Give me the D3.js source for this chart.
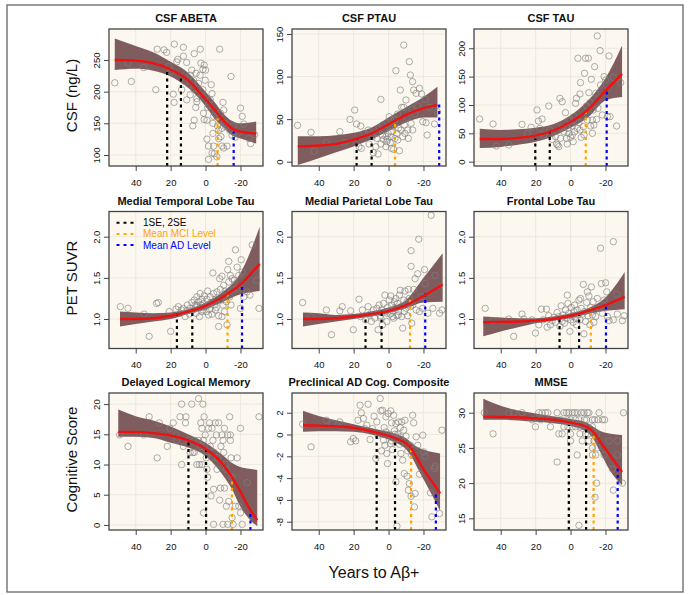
<!DOCTYPE html>
<html>
<head>
<meta charset="utf-8">
<script src="https://cdn.jsdelivr.net/npm/d3@7"></script>
<style>
  body { margin: 0; background: #fff; }
  text { font-family: "Liberation Sans", Arial, Helvetica, sans-serif; }
</style>
</head>
<body>
<div id="chart"></div>
<script>
// ---- data ----
const panelTitles = ["CSF ABETA", "CSF PTAU", "CSF TAU",
  "Medial Temporal Lobe Tau", "Medial Parietal Lobe Tau", "Frontal Lobe Tau",
  "Delayed Logical Memory", "Preclinical AD Cog. Composite", "MMSE"];
const rowTitles = ["CSF (ng/L)", "PET SUVR", "Cognitive Score"];
const xTitle = "Years to A\u03b2+";
const xTicks = [40, 20, 0, -20];
const yTicks = [
  [100, 150, 200, 250], [0, 50, 100, 150], [0, 50, 100, 150, 200],
  [1.0, 1.5, 2.0], [1.0, 1.5, 2.0], [1.0, 1.5, 2.0],
  [0, 5, 10, 15, 20], [-8, -6, -4, -2, 0, 2], [15, 20, 25, 30]
];
const xDomain = [55.3, -32.9];
const yDomains = [
  [82.6, 298.9], [-5.05, 155.9], [-7.6, 234],
  [0.642, 2.306], [0.642, 2.306], [0.642, 2.306],
  [-0.84, 21.84], [-8.76, 3.81], [13.34, 32.8]
];
const legendLabels = ["1SE, 2SE", "Mean MCI Level", "Mean AD Level"];
const legendColors = ["#000000", "#FFA500", "#0000FF"];
const levelColors = ["#000000", "#000000", "#FFA500", "#0000FF"];

// fitted curve knots (x = years to Aβ+), with lower / upper band
const fitX_abeta = [52, 40, 30, 20, 10, 0, -5, -10, -15, -20, -29];
const fit_abeta  = [250, 249, 245, 235, 218, 188, 172, 155, 142, 137, 134];
const hi_abeta   = [284, 272, 262, 247, 230, 200, 184, 166, 154, 150, 153];
const lo_abeta   = [234, 236, 233, 224, 206, 177, 158, 144, 131, 126, 118];

const fitX_ptau = [52, 40, 30, 20, 10, 0, -10, -20, -28];
const fit_ptau  = [18, 19, 21, 26, 33, 44, 55, 63, 66.5];
const hi_ptau   = [30, 30, 31, 34, 40, 52, 64, 76, 88];
const lo_ptau   = [-4, 4, 11, 18, 26, 36, 46, 52, 52];

const fitX_tau = [52, 40, 30, 20, 10, 0, -10, -20, -29.5];
const fit_tau  = [40, 40, 42, 46, 55, 70, 92, 125, 155];
const hi_tau   = [58, 56, 57, 60, 66, 82, 108, 147, 205];
const lo_tau   = [24, 26, 30, 35, 45, 60, 78, 108, 114];

const fitX_mtl = [49, 40, 30, 20, 10, 0, -10, -20, -31];
const fit_mtl  = [1.0, 1.0, 1.01, 1.04, 1.09, 1.16, 1.27, 1.42, 1.67];
const hi_mtl   = [1.09, 1.08, 1.07, 1.08, 1.12, 1.20, 1.33, 1.56, 2.12];
const lo_mtl   = [0.91, 0.94, 0.97, 1.0, 1.06, 1.12, 1.21, 1.30, 1.34];

const fitX_mpl = [49, 40, 30, 20, 10, 0, -10, -20, -31];
const fit_mpl  = [1.0, 1.0, 1.01, 1.03, 1.06, 1.10, 1.17, 1.28, 1.42];
const hi_mpl   = [1.08, 1.07, 1.05, 1.06, 1.09, 1.14, 1.23, 1.50, 1.80];
const lo_mpl   = [0.91, 0.94, 0.97, 1.0, 1.03, 1.07, 1.13, 1.20, 1.21];

const fitX_front = [50, 40, 30, 20, 10, 0, -10, -20, -31];
const fit_front  = [0.96, 0.965, 0.97, 0.98, 1.0, 1.04, 1.10, 1.17, 1.27];
const hi_front   = [1.03, 1.02, 1.01, 1.01, 1.03, 1.07, 1.13, 1.26, 1.57];
const lo_front   = [0.79, 0.85, 0.90, 0.95, 0.98, 1.01, 1.06, 1.10, 1.12];

const fitX_dlm = [50, 40, 30, 20, 10, 0, -10, -15, -20, -25, -29.6];
const fit_dlm  = [15.4, 15.4, 15.2, 14.8, 14.0, 12.6, 10.0, 8.0, 5.5, 2.8, 0.8];
const hi_dlm   = [19.1, 18.0, 17.3, 16.3, 15.0, 13.6, 11.5, 10.3, 9.6, 9.3, 9.1];
const lo_dlm   = [14.6, 14.6, 14.4, 13.6, 12.8, 11.4, 8.2, 6.0, 3.0, 1.0, -0.2];

const fitX_pacc = [49, 40, 30, 20, 10, 5, 0, -5, -10, -13, -17, -21, -25, -29.5];
const fit_pacc  = [0.85, 0.82, 0.75, 0.62, 0.3, 0.1, -0.12, -0.42, -0.8, -1.3, -2.35, -3.45, -4.35, -5.4];
const hi_pacc   = [2.17, 1.7, 1.3, 0.95, 0.6, 0.42, 0.25, 0.0, -0.35, -0.75, -1.2, -1.45, -1.6, -1.75];
const lo_pacc   = [0.25, 0.3, 0.3, 0.25, 0.0, -0.2, -0.45, -0.8, -1.35, -2.0, -3.2, -4.4, -5.6, -7.0];

const fitX_mmse = [50, 40, 30, 20, 10, 0, -9, -13, -17, -23, -29.5];
const fit_mmse  = [29.45, 29.4, 29.35, 29.2, 29.0, 28.6, 28.0, 27.3, 25.9, 23.8, 21.6];
const hi_mmse   = [32.0, 31.0, 30.3, 29.9, 29.5, 29.1, 28.6, 28.0, 27.4, 27.0, 26.85];
const lo_mmse   = [29.0, 29.0, 28.9, 28.7, 28.5, 28.1, 27.3, 26.3, 24.4, 21.6, 19.7];

// [x, top value] of the 1SE, 2SE, MCI and AD drop lines
const levels_abeta = [[22, 237], [14.1, 225], [-6.9, 158], [-16.1, 137]];
const levels_ptau  = [[18.3, 27.5], [9.7, 31.4], [-3.7, 45], [-29, 68.7]];
const levels_tau   = [[20.2, 41], [11.9, 53], [-8.7, 91], [-20.7, 129]];
const levels_mtl   = [[16.4, 1.07], [7.6, 1.11], [-12.6, 1.35], [-20.9, 1.40]];
const levels_mpl   = [[13.2, 1.05], [4, 1.09], [-12.3, 1.23], [-21, 1.31]];
const levels_front = [[6.3, 1.01], [-4.9, 1.05], [-11.6, 1.13], [-20.3, 1.15]];
const levels_dlm   = [[9.8, 14.1], [-0.3, 12.9], [-15.1, 8.2], [-25.7, 2.3]];
const levels_pacc  = [[6.8, 0.05], [-3.7, -0.37], [-12.9, -1.28], [-27.1, -5.26]];
const levels_mmse  = [[1, 28.26], [-8.9, 27.8], [-13.2, 27.3], [-27, 22.1]];

// observed subjects [years to Aβ+, value]
const pts_abeta = [[52,214],[44.4,245],[42.5,216],[35.4,238],[28.5,203],[27.7,267],[23.8,266],[22.3,262],[17.9,275],[21,240],
  [19.8,232],[18.5,196],[18,183],[16.5,247],[15.9,251],[12.7,270],[12.7,256],[11.7,216],[10.8,246],[8.8,226],
  [7.9,234],[8.8,195],[6.9,218],[6.5,260],[5.4,229],[4,213],[3,267],[5,189],[6.5,155],[7.3,146],
  [5,184],[2.7,245],[1.5,235],[0.8,242],[0,234],[1.5,203],[2.1,192],[1.2,166],[0.8,156],[-0.8,155],
  [-1.2,175],[-1.7,179],[-2.7,187],[-3.3,211],[-3.7,197],[-4.6,161],[-4.2,150],[-5.6,166],[-6.5,161],[-6.9,146],
  [-7.5,139],[-8.1,267],[-8.5,166],[-9.4,142],[-10,183],[-10.4,171],[-10.8,150],[-11.3,145],[-8.8,129],[-7.5,126],
  [-4.2,134],[-0.8,125],[-1.7,114],[-4.6,114],[-3.7,103],[-5,102],[-1.7,93],[-6.5,97],[-9.4,114],[-10.4,111],
  [-12.3,114],[-13.8,139],[-14.6,224],[-15.2,131],[-15.8,146],[-17.1,128],[-18.1,134],[-20,174],[-21,161],[-21.9,149],
  [-24.8,126],[-25.8,118],[-28.1,132],[0.2,218],[3.1,226],[6.9,205],[13.7,203],[10.8,187],[5.6,175]];

const pts_ptau = [[52.1,42.7],[44.4,34.5],[42.5,12.5],[35.6,22.3],[27.9,35.3],[25.2,22.3],[22.1,49.7],[19.4,60.7],[18.3,44.3],[16.9,17.6],
  [15.9,41.9],[15.6,15.7],[14,33.3],[11.7,37.2],[11.2,20.8],[9.2,29.4],[8.7,10.6],[7.3,17.6],[6.7,27.4],[6,9],
  [5.4,40.3],[4.4,73.2],[4.4,20.8],[3.5,31.3],[2.9,26.2],[2.1,37.2],[1.5,17.6],[1,23.5],[0.2,33.3],[-0.4,52.9],
  [-1,22.3],[-1.3,29.4],[-1.7,35.3],[-2.3,41.1],[-2.9,14.5],[-3.3,49],[-3.7,27.4],[-4.2,106.9],[-4.8,33.3],[-5.2,56],
  [-5.6,39.2],[-6.2,12.9],[-6.7,84.2],[-7.1,37.2],[-7.5,63.8],[-8.1,29.4],[-8.7,137],[-9,43.1],[-9.4,33.3],[-10,72.5],
  [-10.6,52.1],[-11,37.2],[-11.3,27.4],[-11.9,117.5],[-12.5,101.8],[-12.9,45],[-13.3,61.5],[-13.8,94],[-13.8,37.2],[-14.4,84.2],
  [-15.2,56],[-15.8,80.3],[-16.7,65.4],[-17.7,86.2],[-19,79.5],[-19.6,47],[-21,73.2],[-21.5,45.8],[-22.1,31.3],[-23.5,63.8],
  [-26.3,44.3],[-27.9,58.8],[0.6,26.2],[3.5,43.1],[6.7,33.3],[-1.7,15.7],[-3.7,43.1],[-8.7,63.8],[-5.2,25.5],[1.5,29.4],[-1.3,49]];

const pts_tau = [[52.1,75.3],[44.4,66.5],[42.5,27.6],[35.4,29.4],[27.8,65.9],[24.9,50],[22.6,60.6],[19.2,91.2],[18.4,71.8],[17.6,58.8],
  [16.3,75.3],[15.3,47],[12.5,98.2],[11.9,55.9],[10.5,39.4],[8.6,44.1],[8,31.2],[7.3,29.4],[6.7,26.5],[6.1,111.8],
  [5.7,41.2],[5.2,60],[4.8,105.9],[3.8,52.9],[2.9,86.5],[2.3,41.2],[1.9,31.2],[1.5,58.8],[1,50],[0.4,73.5],
  [0,42.9],[-1,62.9],[-1.5,35.3],[-1.9,79.4],[-2.3,52.9],[-2.9,102.9],[-3.4,111.8],[-3.8,58.8],[-4.2,182.4],[-4.8,68.8],
  [-5.4,119.4],[-5.7,139.4],[-6.1,42.9],[-6.7,79.4],[-7.3,61.8],[-8,155.9],[-8.6,182.4],[-9.2,98.2],[-9.6,73.5],[-10.2,182.4],
  [-10.5,121.8],[-11.1,104.1],[-11.5,62.9],[-11.9,145.3],[-12.5,50],[-13,91.2],[-13.4,64.7],[-13.8,167.6],[-14.4,120.6],[-14.9,74.7],
  [-15.3,221.8],[-15.7,94.1],[-16.9,195.9],[-17.2,135.3],[-18.2,82.4],[-19.2,150],[-20.1,144.1],[-21.1,79.4],[-22,186.5],[-22.6,79.4],
  [-24.5,148.8],[-26.4,62.9],[-28.7,139.4],[-2.9,70.6],[-5.4,55.9],[-7.7,47.1],[-1,47.1],[-12.5,73.5]];

const pts_mtl = [[48.8,1.15],[44.4,1.13],[35.2,1.06],[32.3,0.79],[28.1,1.19],[27.1,1.2],[20.8,1.09],[20,0.85],[16.9,1.12],[15.6,1.15],
  [14.6,1.07],[13.7,1.11],[12.7,1.13],[11.7,1.03],[10.8,1.1],[10.4,1.17],[9.2,1.06],[8.8,1.13],[7.9,1.2],[7.3,1.11],
  [6.5,1.23],[6,1.17],[5.4,1.07],[5,1.27],[4.6,1.15],[4,1.21],[3.5,1.03],[3.1,1.31],[2.7,1.17],[2.1,1.24],
  [1.5,1.11],[1.2,1.19],[0.8,1.28],[0.2,1.15],[-0.4,1.09],[-0.8,1.24],[-1.2,1.34],[-1.7,1.17],[-2.3,1.12],[-2.7,1.27],
  [-3.3,1.2],[-3.7,1.06],[-4.2,1.56],[-4.6,1.31],[-5,1.17],[-5.6,1.24],[-6.2,1.14],[-6.5,1.33],[-7.5,1.04],[-7.5,0.91],
  [-8.1,1.49],[-8.5,1.36],[-8.8,1.23],[-9.4,1.52],[-10,1.17],[-10.4,1.41],[-10.8,1.09],[-11.3,1.34],[-11.9,1.21],[-12.3,0.93],
  [-12.7,1.6],[-13.3,1.7],[-13.3,1.45],[-13.8,1.27],[-14.2,1.53],[-14.6,1.17],[-15.2,1.49],[-15.8,1.36],[-16.5,1.47],[-17.1,1.84],
  [-17.7,1.37],[-18.1,1.63],[-19,1.53],[-20,1.13],[-20.4,1.72],[-21,1.57],[-21.9,1.27],[-23.8,1.33],[-25.4,1.29],[-26.7,1.9],
  [-29.2,1.47],[-30.6,1.13],[2.1,1.09],[-1.7,1.05],[-5.6,1.11],[-9.4,1.03],[5,1.17]];

const pts_mpl = [[49.2,1.2],[44.4,1.03],[35.6,1.11],[32.7,0.81],[27.9,1.1],[26.5,1.15],[21.7,1.1],[20.2,0.87],[16.9,1.24],[16,1.03],
  [15,1.11],[13.1,0.99],[11.7,1.15],[10.6,1.06],[9.8,0.97],[8.7,1.11],[7.9,1.01],[6.7,1.13],[6,0.87],[5.4,1.17],
  [4.8,1.04],[4,1.11],[3.5,0.93],[2.9,1.19],[2.1,1.29],[1.5,1.09],[1,0.97],[0.6,1.14],[-0.4,1.23],[-1,1.06],
  [-1.3,1.28],[-1.7,1.17],[-2.3,1.1],[-2.9,1.01],[-3.3,1.21],[-3.7,1.13],[-4.2,1.25],[-4.8,1.04],[-5.2,1.19],[-5.8,1.09],
  [-6.2,1.29],[-6.7,1.35],[-7.1,1.15],[-7.5,1.03],[-8.1,0.89],[-8.7,1.23],[-9,1.09],[-9.4,1.34],[-10,1.13],[-10.6,1.21],
  [-11,1.04],[-11.3,1.36],[-11.9,1.25],[-12.5,1.15],[-12.9,1.64],[-12.9,1.83],[-13.3,0.95],[-13.8,1.17],[-14.4,1.36],[-15.2,1.49],
  [-15.8,1.11],[-16.7,1.55],[-17.3,1.97],[-17.7,1.09],[-18.7,1.27],[-19.6,1.13],[-20.6,1.6],[-21,1.43],[-22.5,1.07],[-24.4,2.26],
  [-25.4,1.13],[-26.7,1.53],[-29.2,1.07],[-30.6,1.11],[1,1.07],[-2.3,1.03],[-5.6,1.05],[4.4,1.01]];

const pts_front = [[48.9,1.13],[44.4,0.98],[35.4,1.0],[32.6,0.79],[27.8,1.06],[26.8,1.0],[22,0.99],[20.1,0.83],[18.2,0.93],[16.7,1.12],
  [15.7,0.99],[13.8,1.12],[13.4,0.9],[12.5,1.04],[11.5,0.93],[10.5,0.98],[9.6,1.02],[8.6,0.96],[7.7,1.08],[6.7,1.03],
  [6.1,0.91],[5.4,1.16],[4.8,0.97],[4.2,1.05],[3.4,0.95],[2.9,1.11],[2.3,1.01],[1.9,1.29],[1.5,1.19],[1,1.07],
  [0.4,0.85],[0,0.99],[-0.4,1.14],[-1,1.04],[-1.5,0.96],[-1.9,1.09],[-2.3,1.17],[-2.9,1.01],[-3.4,0.93],[-3.8,1.11],
  [-4.2,1.05],[-4.8,1.23],[-5.4,0.99],[-5.7,1.25],[-6.1,1.13],[-6.7,1.06],[-7.3,1.42],[-7.7,0.82],[-8,1.09],[-8.6,0.97],
  [-9.2,1.2],[-9.6,1.33],[-10,1.04],[-10.5,1.28],[-11.1,0.93],[-11.5,1.14],[-11.9,1.39],[-12.5,1.05],[-13,1.21],[-13.4,0.96],
  [-13.8,1.11],[-14.4,1.03],[-15.3,1.25],[-16.3,1.13],[-17.2,1.86],[-17.6,1.43],[-18.2,1.07],[-19.2,1.23],[-20.1,1.44],[-20.7,1.33],
  [-21.1,1.03],[-22,0.98],[-24.5,1.94],[-24.5,0.99],[-26.4,1.3],[-26.8,1.06],[-29.7,0.98],[-30.7,1.04]];

const pts_dlm = [[49.2,14.9],[44.4,13],[35.4,14.9],[32.3,17.9],[27.7,11.1],[26.5,16.9],[21.9,13],[20.4,16],[18.5,16.9],[16.9,14.9],
  [16.5,14],[14.6,17.9],[13.7,20],[13.7,10],[12.7,13],[11.5,16.9],[11.2,17.9],[9.8,14],[8.8,12],[7.9,20],
  [7.3,12],[6.5,12],[5,10],[4,20.9],[4,14],[3.5,10],[2.7,16.9],[2.7,13],[2.1,16],[1.5,20],
  [1.2,14],[1.2,2],[0.8,17.9],[0.2,14.9],[-0.4,11.1],[-0.8,9.2],[-1.2,7.9],[-1.7,16],[-2.3,16.9],[-2.7,13],
  [-3.1,4.8],[-3.7,16],[-4.2,14],[-4.6,0.1],[-4.6,5.9],[-5,12],[-5.6,16.9],[-6.2,14.9],[-6.5,9.2],[-6.9,11.1],
  [-7.5,16.9],[-8.1,4.1],[-8.5,6.1],[-8.8,13],[-9.4,14.9],[-10,14],[-10,0.1],[-10.4,12],[-10.8,16],[-10.8,6.1],
  [-11.3,10],[-11.9,3.1],[-11.9,9.2],[-12.7,14.9],[-12.7,0.1],[-13.3,3.9],[-13.8,17.9],[-14.2,14.9],[-14.2,14],[-14.6,11.1],
  [-15.2,7.9],[-15.2,1.2],[-15.8,0.1],[-17.1,3.1],[-18.1,11.1],[-19,3.1],[-20,16],[-20,2],[-21,0.1],[-23.8,7],
  [-30.6,17.9],[-0.8,12],[2.1,10],[6,14],[-3.7,11.1]];

const pts_pacc = [[49.2,0.95],[44.4,-1.13],[35.6,1.31],[32.3,1.01],[27.9,1.16],[26.5,0.86],[21.7,-0.67],[20.2,-0.37],[18.8,-0.58],[17.5,1.31],
  [16.3,2.69],[15.6,1.99],[14.4,1.47],[13.7,0.55],[12.5,0.86],[11.7,2.78],[10.6,-0.46],[9.2,0.55],[8.3,1.68],[7.3,-2.2],
  [6.7,1.16],[6,-0.06],[4.8,3.3],[4.4,2.17],[4,-1.5],[3.5,2.23],[2.9,-0.52],[2.5,0.64],[2.1,-0.98],[1.5,1.62],
  [1,-1.74],[0.6,-2.66],[0.2,1.93],[-0.4,0.03],[-1,-0.83],[-1.3,2.17],[-1.7,1.07],[-2.3,-1.38],[-2.9,1.77],[-3.3,0.34],
  [-3.7,-0.37],[-4.2,-4.34],[-4.2,1.01],[-4.8,-8.41],[-5.2,0.03],[-5.6,1.16],[-6.2,-0.89],[-6.7,0.64],[-7.1,-1.74],[-7.5,1.16],
  [-8.1,-2.35],[-8.7,0.4],[-9,-3.58],[-9.4,1.31],[-10,-0.15],[-10.6,-3.82],[-11,-1.5],[-11.3,-5.11],[-11.9,-4.5],[-12.5,-0.98],
  [-12.9,-5.66],[-13.3,-1.9],[-13.8,1.77],[-14.4,1.07],[-14.8,-6.64],[-15.2,-5.41],[-15.8,-0.21],[-16.7,-0.98],[-17.7,-3.64],[-19.6,-0.06],
  [-20.2,-1.59],[-21,-1.99],[-24,-5.35],[-24.8,-7.55],[-26.3,-3.12],[-26.7,-2.91],[-29.2,-7.25],[-30.6,0.4],[-3.7,0.03],[-6.7,-0.21],
  [1.5,0.24],[-1.7,-0.58]];

const pts_mmse = [[49.4,30],[35.4,30],[32.6,30],[27.8,30],[18.2,30],[16.3,30],[14.4,30],[13,30],[7.7,30],[3.8,30],
  [2.3,30],[1,30],[-1,30],[-2.3,30],[-3.8,30],[-6.1,30],[-7.7,30],[-9.6,30],[-10.5,30],[-16.3,30],[-30.3,30],
  [22,29],[17.2,29],[11.9,29],[5.7,29],[1.9,29],[0,29],[-2.9,29],[-4.8,29],[-8,29],[-9.2,29],
  [-12.5,29],[-13.8,29],[-15.7,29],[-18.2,29],[-19.5,29],
  [20.1,28],[11.5,28],[3.8,28],[1.5,28],[-1,28],[-2.9,28],[-5.4,28],[-7.7,28],[-9.6,28],[-12.5,28],
  [44.4,27],[6.7,27],[4.8,27],[0,27],[-5.4,27],[-8.6,27],[-10,27],[-13.4,27],[-14.9,27],
  [0,26],[-6.7,26],[-10.5,26],[-13.4,26],[-22,26],[-26.8,26],
  [-12.5,25],[-15.3,25],
  [-3.8,24],[-12.5,24],[-14.4,24],[-19.2,24],[-26.8,24],
  [7.7,23],[-24,22],[-14.9,20],[-29.7,20],[-24.5,19],[-14,18],[-4.8,14]];

// table built from the arrays above
const panels = [
  { fx: fitX_abeta, fit: fit_abeta, lo: lo_abeta, hi: hi_abeta, lv: levels_abeta, pts: pts_abeta },
  { fx: fitX_ptau,  fit: fit_ptau,  lo: lo_ptau,  hi: hi_ptau,  lv: levels_ptau,  pts: pts_ptau },
  { fx: fitX_tau,   fit: fit_tau,   lo: lo_tau,   hi: hi_tau,   lv: levels_tau,   pts: pts_tau },
  { fx: fitX_mtl,   fit: fit_mtl,   lo: lo_mtl,   hi: hi_mtl,   lv: levels_mtl,   pts: pts_mtl },
  { fx: fitX_mpl,   fit: fit_mpl,   lo: lo_mpl,   hi: hi_mpl,   lv: levels_mpl,   pts: pts_mpl },
  { fx: fitX_front, fit: fit_front, lo: lo_front, hi: hi_front, lv: levels_front, pts: pts_front },
  { fx: fitX_dlm,   fit: fit_dlm,   lo: lo_dlm,   hi: hi_dlm,   lv: levels_dlm,   pts: pts_dlm },
  { fx: fitX_pacc,  fit: fit_pacc,  lo: lo_pacc,  hi: hi_pacc,  lv: levels_pacc,  pts: pts_pacc },
  { fx: fitX_mmse,  fit: fit_mmse,  lo: lo_mmse,  hi: hi_mmse,  lv: levels_mmse,  pts: pts_mmse }
];

// ---- layout ----
const width = 689, height = 595;
const colLeft = [109, 292, 474];
const rowTop = [29, 211.5, 393];
const panelW = 154, panelH = 137;

const svg = d3.select("#chart").append("svg")
  .attr("width", width)
  .attr("height", height);

svg.append("rect")
  .attr("x", 7).attr("y", 5)
  .attr("width", 676).attr("height", 587)
  .attr("fill", "#fff")
  .attr("stroke", "#666")
  .attr("stroke-width", 1.3);

const fmtTick = d => (d < 0 ? "-" + Math.abs(d) : String(d));

panels.forEach((p, i) => {
  const col = i % 3, row = Math.floor(i / 3);
  const left = colLeft[col], top = rowTop[row];

  const x = d3.scaleLinear().domain(xDomain).range([left, left + panelW]);
  const y = d3.scaleLinear().domain(yDomains[i]).range([top + panelH, top]);

  const g = svg.append("g");

  const clipId = "clip" + i;
  g.append("clipPath").attr("id", clipId)
    .append("rect")
    .attr("x", left).attr("y", top)
    .attr("width", panelW).attr("height", panelH);

  // background + faint grid
  g.append("rect")
    .attr("x", left).attr("y", top)
    .attr("width", panelW).attr("height", panelH)
    .attr("fill", "#fcf8ef");

  g.selectAll(".gx").data(xTicks).enter().append("line")
    .attr("x1", d => x(d)).attr("x2", d => x(d))
    .attr("y1", top).attr("y2", top + panelH)
    .attr("stroke", "#ebe5d9").attr("stroke-width", 0.8);
  g.selectAll(".gy").data(yTicks[i]).enter().append("line")
    .attr("x1", left).attr("x2", left + panelW)
    .attr("y1", d => y(d)).attr("y2", d => y(d))
    .attr("stroke", "#ebe5d9").attr("stroke-width", 0.8);

  const inner = g.append("g").attr("clip-path", `url(#${clipId})`);

  const knots = p.fx.map((xv, k) => ({ x: xv, f: p.fit[k], lo: p.lo[k], hi: p.hi[k] }));

  const band = d3.area()
    .x(d => x(d.x))
    .y0(d => y(d.lo))
    .y1(d => y(d.hi))
    .curve(d3.curveMonotoneX);

  inner.append("path")
    .attr("d", band(knots))
    .attr("fill", "#7f5d5f");

  // subjects
  inner.selectAll(".pt").data(p.pts).enter().append("circle")
    .attr("cx", d => x(d[0]))
    .attr("cy", d => y(d[1]))
    .attr("r", 3.2)
    .attr("fill", "none")
    .attr("stroke", "#808080")
    .attr("stroke-opacity", 0.8)
    .attr("stroke-width", 0.8);

  // drop lines for 1SE/2SE, MCI, AD
  inner.selectAll(".lv").data(p.lv).enter().append("line")
    .attr("x1", d => x(d[0])).attr("x2", d => x(d[0]))
    .attr("y1", top + panelH).attr("y2", d => y(d[1]))
    .attr("stroke", (d, k) => levelColors[k])
    .attr("stroke-width", 2.2)
    .attr("stroke-dasharray", "3,3.5");

  const line = d3.line()
    .x(d => x(d.x))
    .y(d => y(d.f))
    .curve(d3.curveMonotoneX);

  inner.append("path")
    .attr("d", line(knots))
    .attr("fill", "none")
    .attr("stroke", "#f01010")
    .attr("stroke-width", 2.4);

  // box
  g.append("rect")
    .attr("x", left).attr("y", top)
    .attr("width", panelW).attr("height", panelH)
    .attr("fill", "none")
    .attr("stroke", "#444")
    .attr("stroke-width", 1.3);

  // axes
  const xAxis = g.append("g")
    .attr("transform", `translate(0,${top + panelH})`)
    .call(d3.axisBottom(x).tickValues(xTicks).tickSize(5).tickPadding(8).tickFormat(fmtTick));
  xAxis.select(".domain").remove();
  xAxis.selectAll("line").attr("stroke", "#444");
  xAxis.selectAll("text")
    .attr("font-size", 9.5)
    .attr("fill", "#111")
    .style("font-family", "'Liberation Sans', Arial, sans-serif");

  const yAxis = g.append("g")
    .attr("transform", `translate(${left},0)`)
    .call(d3.axisLeft(y).tickValues(yTicks[i]).tickSize(5)
      .tickFormat(row === 1 ? d3.format(".1f") : fmtTick));
  yAxis.select(".domain").remove();
  yAxis.selectAll("line").attr("stroke", "#444");
  yAxis.selectAll("text")
    .attr("transform", "rotate(-90)")
    .attr("x", 0).attr("y", -9).attr("dy", 0)
    .attr("text-anchor", "middle")
    .attr("font-size", 9.5)
    .attr("fill", "#111")
    .style("font-family", "'Liberation Sans', Arial, sans-serif");

  // title
  g.append("text")
    .attr("x", left + panelW / 2)
    .attr("y", top - 7)
    .attr("text-anchor", "middle")
    .attr("font-size", 11)
    .attr("font-weight", "bold")
    .attr("fill", "#111")
    .text(panelTitles[i]);

  // legend lives in the Medial Temporal Lobe panel
  if (i === 3) {
    legendLabels.forEach((lab, k) => {
      const ly = top + 11.2 + k * 11.2;
      g.append("line")
        .attr("x1", left + 7.5).attr("x2", left + 25)
        .attr("y1", ly).attr("y2", ly)
        .attr("stroke", legendColors[k])
        .attr("stroke-width", 2)
        .attr("stroke-dasharray", "3,4");
      g.append("text")
        .attr("x", left + 34).attr("y", ly + 3.5)
        .attr("font-size", 10)
        .attr("fill", legendColors[k])
        .text(lab);
    });
  }
});

// row (y) titles
rowTitles.forEach((t, r) => {
  svg.append("text")
    .attr("transform", `translate(77,${rowTop[r] + panelH / 2 - 2}) rotate(-90)`)
    .attr("text-anchor", "middle")
    .attr("font-size", 15)
    .attr("fill", "#111")
    .text(t);
});

svg.append("text")
  .attr("x", 374)
  .attr("y", 578)
  .attr("text-anchor", "middle")
  .attr("font-size", 16)
  .attr("fill", "#111")
  .text(xTitle);
</script>
</body>
</html>
